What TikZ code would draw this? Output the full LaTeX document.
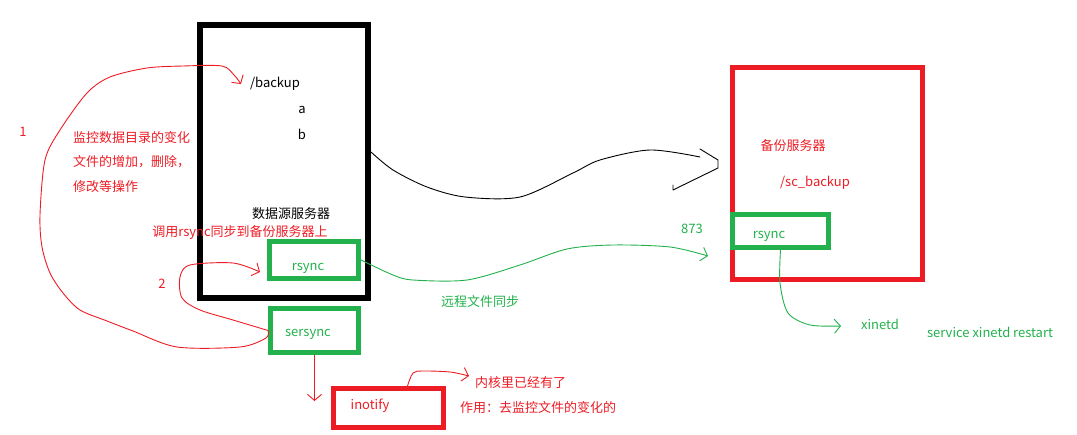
\documentclass[tikz,border=0pt]{standalone}
\usepackage{fontspec}
\setmainfont{Noto Sans CJK SC}
\usetikzlibrary{arrows.meta}
\definecolor{pred}{RGB}{237,28,36}
\definecolor{pgreen}{RGB}{34,177,76}
\tikzset{
  box/.style={draw, inner sep=0pt, line width=#1},
  lbl/.style={inner sep=0pt, font=\fontsize{13}{13}\selectfont},
  pen/.style={line width=0.9pt, line join=round, line cap=round},
  hand/.style={pen, -{Straight Barb[length=6pt,width=14pt,line width=0.9pt]}},
}
\begin{document}
\begin{tikzpicture}[x=1pt,y=-1pt]
\useasboundingbox (0,0) rectangle (1077,435);
% boxes
\node[box=6pt, draw=black, minimum width=168pt, minimum height=273pt] (src) at (284,161.5) {};
\node[box=5pt, draw=pgreen, minimum width=89pt, minimum height=37pt] (rsyncA) at (314,260) {};
\node[box=5pt, draw=pgreen, minimum width=88pt, minimum height=44pt] (sersync) at (314.5,330.5) {};
\node[box=5pt, draw=pred, minimum width=110pt, minimum height=39pt] (ino) at (388.5,408) {};
\node[box=5pt, draw=pred, minimum width=190pt, minimum height=212pt] (dst) at (827.5,173.5) {};
\node[box=5pt, draw=pgreen, minimum width=96pt, minimum height=33pt] (rsyncB) at (780.5,231) {};
% texts
\node[lbl] (bak) at (275,84) {/backup};
\node[lbl] (fa) at (302,110) {a};
\node[lbl] (fb) at (302,134) {b};
\node[lbl] (srcname) at (291,214) {数据源服务器};
\node[lbl, pred] (call) at (240,233) {调用rsync同步到备份服务器上};
\node[lbl, pgreen] (rsyncAt) at (308,268) {rsync};
\node[lbl, pgreen] (sersynct) at (308,334) {sersync};
\node[lbl, pred] (inot) at (370,406) {inotify};
\node[lbl, pred] (one) at (23,132) {1};
\node[lbl, pred] (two) at (162,284) {2};
\node[lbl, pred, anchor=west] (mon1) at (73,138) {监控数据目录的变化};
\node[lbl, pred, anchor=west] (mon2) at (73,162) {文件的增加，删除，};
\node[lbl, pred, anchor=west] (mon3) at (73,187) {修改等操作};
\node[lbl, pred, anchor=west] (kern) at (475,383) {内核里已经有了};
\node[lbl, pred, anchor=west] (use) at (460,408) {作用：去监控文件的变化的};
\node[lbl, pgreen] (port) at (692,229) {873};
\node[lbl, pgreen] (remote) at (480,302) {远程文件同步};
\node[lbl, pred] (dstname) at (793,146) {备份服务器};
\node[lbl, pred] (scb) at (815,183) {/sc\_backup};
\node[lbl, pgreen] (rsyncBt) at (769,236) {rsync};
\node[lbl, pgreen] (xin) at (880,324) {xinetd};
\node[lbl, pgreen] (svc) at (990,332) {service xinetd restart};
% arrow ends
\coordinate (c1end) at (241,84);
\coordinate (c2end) at (260,272);
\coordinate (g1end) at (708,256);
\coordinate (bend) at (700,157);
\coordinate (g2end) at (841,326);
\coordinate (r3end) at (469,376);
\coordinate (downend) at (314.5,401);
% connectors
\draw[hand, pred] plot[smooth] coordinates {(sersync.west) (266,338) (240,347) (177,347)
  (133,331) (107,321) (80,310) (63,293) (50,273) (42,247) (40,215) (45,160) (60,130)
  (87,93) (110,77) (147,68) (183,66) (222,66) (234,75) (c1end)};
\draw[hand, pred] plot[smooth] coordinates {(sersync.west) (233,320) (200,310) (182,298)
  (180,277) (190,265) (233,263) (c2end)};
\draw[hand, pgreen] plot[smooth] coordinates {(rsyncA.east) (393,275) (413,280) (467,280)
  (520,265) (567,249) (613,245) (670,247) (g1end)};
\draw[pen, black] plot[smooth] coordinates {([yshift=9.5pt]src.east) (393,170) (427,187)
  (465,197) (520,197) (573,173) (600,160) (650,150) (bend)};
\draw[pen, black] ([shift={(0,-8)}]bend) -- ++(18,11) -- ++(0,8) -- ++(-45,22) -- ++(0,-5);
\draw[hand, pgreen] plot[smooth] coordinates {(rsyncB.south) (780,283) (788,313) (810,325) (g2end)};
\draw[hand, pred] plot[smooth] coordinates {([xshift=19pt]ino.north) (413,373) (423,371)
  (450,372) (r3end)};
\draw[hand, pred] (sersync.south) -- (downend);
\end{tikzpicture}
\end{document}
